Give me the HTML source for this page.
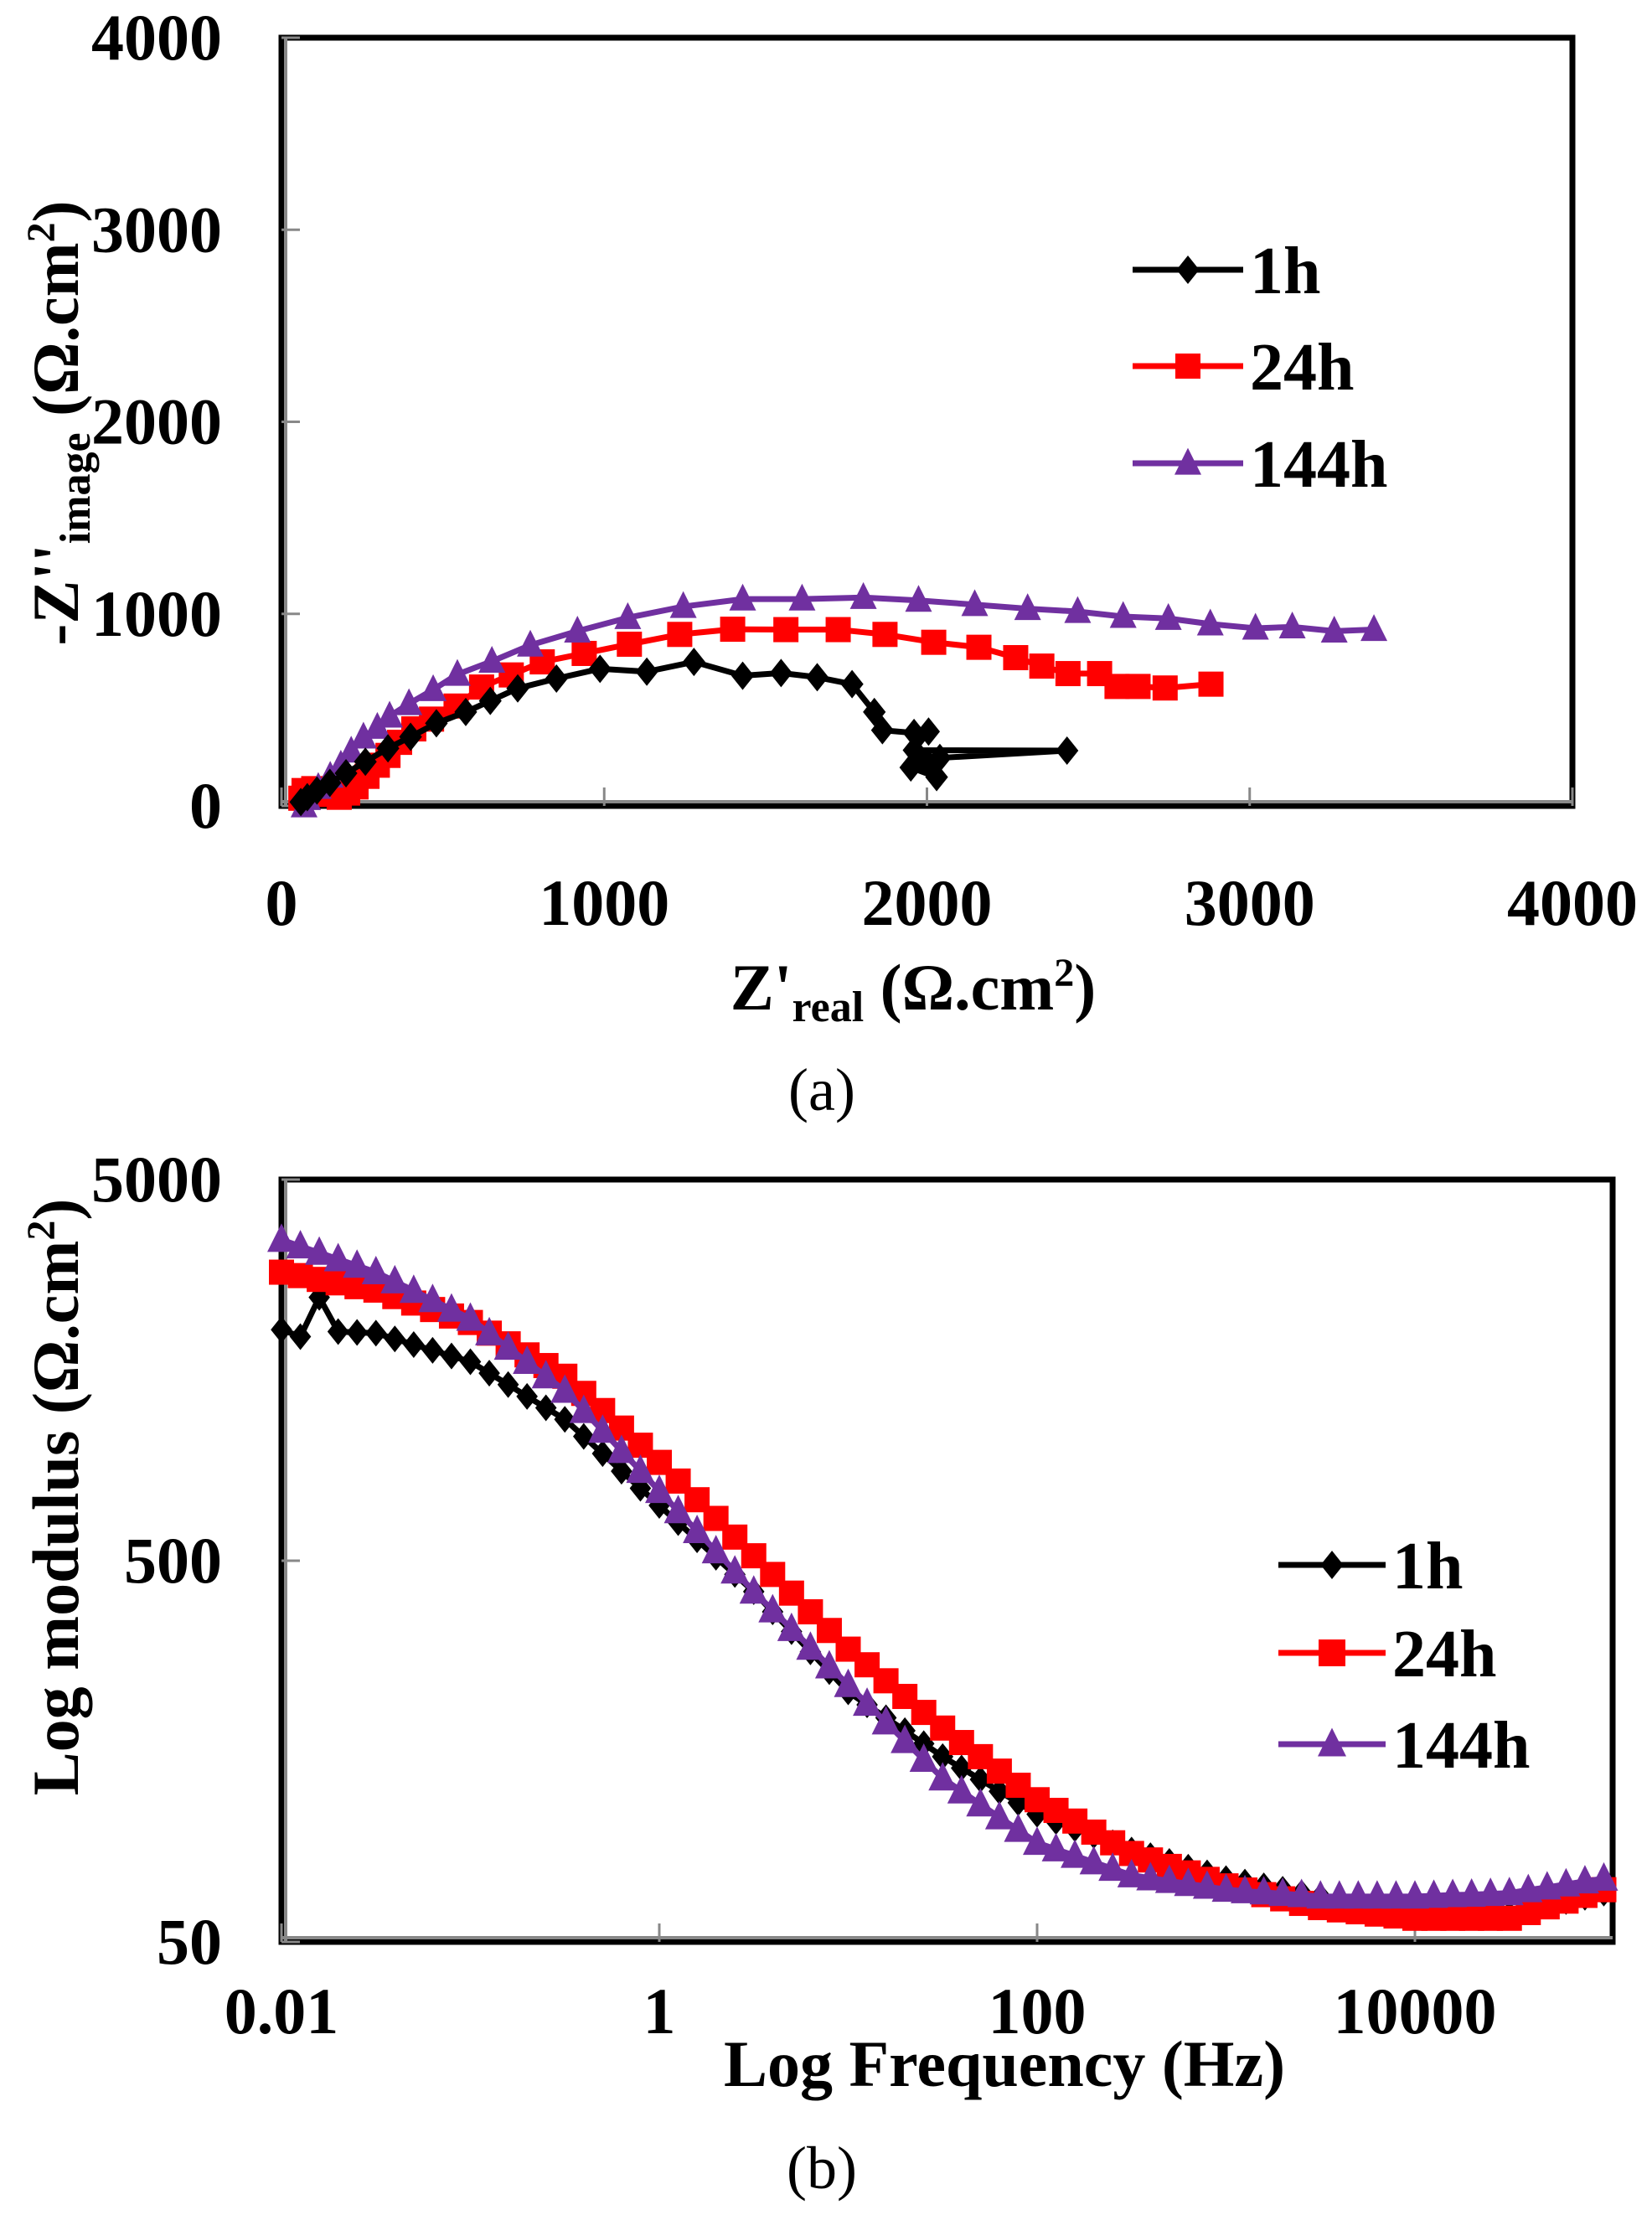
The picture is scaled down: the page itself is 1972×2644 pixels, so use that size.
<!DOCTYPE html>
<html><head><meta charset="utf-8"><style>
html,body{margin:0;padding:0;background:#fff;}
svg{display:block;}
text{font-family:"Liberation Serif",serif;font-weight:bold;fill:#000;}
</style></head><body>
<svg id="fig" width="1972" height="2644" viewBox="0 0 1972 2644" xmlns="http://www.w3.org/2000/svg">
<g id="pa"></g>
<g id="pb"></g>
<text x="981" y="1325" font-size="72" text-anchor="middle" style="font-weight:normal">(a)</text>
<text x="981" y="2612" font-size="72" text-anchor="middle" style="font-weight:normal">(b)</text>
</svg>
<script>
// ---- Nyquist data (Ω.cm²) ----
const nyqX1h = [60,80,110,150,200,260,330,400,480,571,647,732,852,987,1132,1278,1429,1548,1660,1768,1837,1862,1960,2005,1960,2434,2040,1950,2030,2000];
const nyqY1h = [20,45,80,120,170,230,300,360,430,489,547,612,663,714,699,750,678,692,670,634,489,394,380,387,290,288,250,200,150,230];
const nyqX24h = [60,70,100,130,179,205,231,265,297,330,366,410,465,541,620,712,808,938,1078,1234,1398,1563,1725,1870,2021,2161,2275,2356,2437,2535,2589,2654,2738,2880];
const nyqY24h = [40,80,90,60,45,67,99,154,212,263,331,401,452,520,619,682,750,794,842,893,920,918,918,893,852,826,772,728,689,689,622,622,614,634];
const nyqX144h = [70,81,114,151,184,216,254,297,335,395,470,545,652,771,917,1073,1245,1429,1613,1803,1974,2148,2312,2467,2608,2748,2878,3018,3132,3262,3385];
const nyqY144h = [0,38,96,154,212,285,358,409,467,532,605,685,753,837,910,980,1038,1077,1077,1085,1070,1048,1027,1012,986,976,947,925,932,910,918];
const nyqTicks = [0,1000,2000,3000,4000];

// ---- Bode data: log10(frequency Hz) and log10(|Z| Ω.cm²) ----
const logFreq = [-2,-1.9,-1.8,-1.7,-1.6,-1.5,-1.4,-1.3,-1.2,-1.1,-1,-0.9,-0.8,-0.7,-0.6,-0.5,-0.4,-0.3,-0.2,-0.1,0,0.1,0.2,0.3,0.4,0.5,0.6,0.7,0.8,0.9,1,1.1,1.2,1.3,1.4,1.5,1.6,1.7,1.8,1.9,2,2.1,2.2,2.3,2.4,2.5,2.6,2.7,2.8,2.9,3,3.1,3.2,3.3,3.4,3.5,3.6,3.7,3.8,3.9,4,4.1,4.2,4.3,4.4,4.5,4.6,4.7,4.8,4.9,5];
const logMod1h = [3.305,3.287,3.390,3.300,3.298,3.296,3.281,3.266,3.251,3.236,3.221,3.191,3.161,3.130,3.100,3.070,3.025,2.980,2.934,2.889,2.844,2.799,2.754,2.708,2.663,2.618,2.565,2.513,2.460,2.408,2.355,2.321,2.287,2.253,2.219,2.185,2.155,2.125,2.094,2.064,2.034,2.015,1.996,1.978,1.959,1.940,1.925,1.910,1.895,1.880,1.865,1.856,1.846,1.837,1.827,1.818,1.812,1.806,1.801,1.795,1.789,1.785,1.782,1.778,1.775,1.771,1.782,1.794,1.805,1.816,1.827];
const logMod24h = [3.456,3.447,3.437,3.428,3.418,3.409,3.392,3.375,3.358,3.341,3.324,3.296,3.268,3.239,3.211,3.183,3.138,3.093,3.047,3.002,2.957,2.908,2.859,2.810,2.761,2.712,2.663,2.614,2.565,2.516,2.467,2.426,2.384,2.343,2.301,2.260,2.222,2.185,2.147,2.110,2.072,2.044,2.016,1.987,1.959,1.931,1.914,1.897,1.880,1.863,1.846,1.835,1.823,1.812,1.800,1.789,1.783,1.778,1.772,1.767,1.761,1.761,1.761,1.761,1.761,1.761,1.776,1.791,1.806,1.821,1.836];
const logMod144h = [3.541,3.524,3.507,3.490,3.473,3.456,3.432,3.407,3.383,3.358,3.334,3.296,3.258,3.221,3.183,3.145,3.092,3.040,2.987,2.935,2.882,2.829,2.777,2.724,2.671,2.618,2.569,2.520,2.471,2.422,2.373,2.324,2.275,2.226,2.177,2.128,2.094,2.060,2.026,1.993,1.959,1.942,1.925,1.908,1.891,1.874,1.866,1.859,1.851,1.844,1.836,1.832,1.829,1.825,1.822,1.818,1.818,1.818,1.818,1.818,1.818,1.820,1.822,1.823,1.825,1.827,1.835,1.842,1.850,1.858,1.865];
const bodeXTickLabels = ["0.01","1","100","10000"];
const bodeXTickLogs = [-2,0,2,4];
const bodeYTickLabels = ["50","500","5000"];
const bodeYTickLogs = [1.699,2.699,3.699];

const NS = "http://www.w3.org/2000/svg";
function mk(parent, tag, attrs){ const e=document.createElementNS(NS,tag); for(const k in attrs) e.setAttribute(k,attrs[k]); parent.appendChild(e); return e; }

function marker(g, shape, cx, cy, s, color){
  let e;
  if(shape==='diamond') e = mk(g,'polygon',{points:`${cx},${cy-s} ${cx+s*0.8},${cy} ${cx},${cy+s} ${cx-s*0.8},${cy}`,fill:color});
  else if(shape==='square') e = mk(g,'rect',{x:cx-s,y:cy-s,width:2*s,height:2*s,fill:color});
  else e = mk(g,'polygon',{points:`${cx},${cy-s*1.15} ${cx+s},${cy+s*0.85} ${cx-s},${cy+s*0.85}`,fill:color});
  return e;
}

function frame(g, L, T, R, B){
  const r = mk(g,'rect',{x:L,y:T,width:R-L,height:B-T,fill:'none',stroke:'#000','stroke-width':7});
  
  
  const l1 = mk(g,'line',{x1:L+5,y1:T,x2:L+5,y2:B,stroke:'#888','stroke-width':4});
  
  
  const l2 = mk(g,'line',{x1:L,y1:B-5,x2:R,y2:B-5,stroke:'#888','stroke-width':4});
  
  
}

// ===== Plot (a) Nyquist =====
(function(){
  const g = document.getElementById('pa');
  const L=336,R=1877,T=45,B=962;
  const xs = v => L + (v/4000)*(R-L);
  const ys = v => B - (v/4000)*(B-T);
  frame(g,L,T,R,B);
  nyqTicks.forEach(t=>{
    const tx = mk(g,'line',{x1:xs(t),y1:B,x2:xs(t),y2:B-22,stroke:'#888','stroke-width':3});
    
    
    const ty = mk(g,'line',{x1:L,y1:ys(t),x2:L+22,y2:ys(t),stroke:'#888','stroke-width':3});
    
    
    const lx = mk(g,'text',{x:xs(t),y:1104,'font-size':78,'text-anchor':'middle'});
    lx.textContent = t;
    
    
    const ly = mk(g,'text',{x:265,y:ys(t)+26,'font-size':78,'text-anchor':'end'});
    ly.textContent = t;
    
    
  });
  const series = [
    {x:nyqX1h,y:nyqY1h,c:'#000',s:'diamond',sz:17,name:'series-1h'},
    {x:nyqX24h,y:nyqY24h,c:'#ff0000',s:'square',sz:15,name:'series-24h'},
    {x:nyqX144h,y:nyqY144h,c:'#7030a0',s:'triangle',sz:16,name:'series-144h'}
  ];
  [series[1],series[2],series[0]].forEach(sr=>{
    const sg = mk(g,'g',{});
    
    
    const pts = sr.x.map((v,i)=>xs(v)+','+ys(sr.y[i])).join(' ');
    const pl = mk(sg,'polyline',{points:pts,fill:'none',stroke:sr.c,'stroke-width':7,'stroke-linejoin':'round'});
    
    
    sr.x.forEach((v,i)=>{
      const m = marker(sg,sr.s,xs(v),ys(sr.y[i]),sr.sz,sr.c);
      
      
    });
  });
  const leg = [{t:'1h',y:322,c:'#000',s:'diamond',sz:17},{t:'24h',y:437,c:'#ff0000',s:'square',sz:15},{t:'144h',y:553,c:'#7030a0',s:'triangle',sz:16}];
  leg.forEach(l=>{
    const lg = mk(g,'g',{});
    
    
    mk(lg,'line',{x1:1352,y1:l.y,x2:1484,y2:l.y,stroke:l.c,'stroke-width':7});
    marker(lg,l.s,1418,l.y,l.sz,l.c);
    const tt = mk(lg,'text',{x:1492,y:l.y+28,'font-size':80});
    tt.textContent = l.t;
  });
  const xt = mk(g,'text',{x:1090,y:1205,'font-size':78,'text-anchor':'middle'});
  xt.innerHTML = 'Z\'<tspan font-size="52" dy="14">real</tspan><tspan dy="-14"> (Ω.cm</tspan><tspan font-size="48" dy="-28">2</tspan><tspan dy="28">)</tspan>';
  
  
  const yt = mk(g,'text',{x:0,y:0,'font-size':78,'text-anchor':'middle',transform:'translate(93,505) rotate(-90)'});
  yt.innerHTML = '-Z\'\'<tspan font-size="52" dy="14">image</tspan><tspan dy="-14"> (Ω.cm</tspan><tspan font-size="48" dy="-28">2</tspan><tspan dy="28">)</tspan>';
  
  
})();

// ===== Plot (b) Bode =====
(function(){
  const g = document.getElementById('pb');
  const L=336,R=1925,T=1408,B=2318;
  const xs = lf => L + (lf+2)*225.5;
  const ys = lm => B - (lm-1.699)*455;
  frame(g,L,T,R,B);
  bodeXTickLogs.forEach((t,i)=>{
    const tx = mk(g,'line',{x1:xs(t),y1:B,x2:xs(t),y2:B-22,stroke:'#888','stroke-width':3});
    
    
    const lx = mk(g,'text',{x:xs(t),y:2427,'font-size':78,'text-anchor':'middle'});
    lx.textContent = bodeXTickLabels[i];
    
    
  });
  bodeYTickLogs.forEach((t,i)=>{
    const ty = mk(g,'line',{x1:L,y1:ys(t),x2:L+22,y2:ys(t),stroke:'#888','stroke-width':3});
    
    
    const ly = mk(g,'text',{x:265,y:ys(t)+26,'font-size':78,'text-anchor':'end'});
    ly.textContent = bodeYTickLabels[i];
    
    
  });
  const series = [
    {y:logMod1h,c:'#000',s:'diamond',sz:16,name:'series-1h'},
    {y:logMod24h,c:'#ff0000',s:'square',sz:15,name:'series-24h'},
    {y:logMod144h,c:'#7030a0',s:'triangle',sz:17,name:'series-144h'}
  ];
  series.forEach(sr=>{
    const sg = mk(g,'g',{});
    
    
    const pts = logFreq.map((f,i)=>xs(f)+','+ys(sr.y[i])).join(' ');
    const pl = mk(sg,'polyline',{points:pts,fill:'none',stroke:sr.c,'stroke-width':7});
    
    
    logFreq.forEach((f,i)=>{
      const m = marker(sg,sr.s,xs(f),ys(sr.y[i]),sr.sz,sr.c);
      
      
    });
  });
  const leg = [{t:'1h',y:1868,c:'#000',s:'diamond',sz:17},{t:'24h',y:1973,c:'#ff0000',s:'square',sz:16},{t:'144h',y:2082,c:'#7030a0',s:'triangle',sz:17}];
  leg.forEach(l=>{
    const lg = mk(g,'g',{});
    
    
    mk(lg,'line',{x1:1526,y1:l.y,x2:1654,y2:l.y,stroke:l.c,'stroke-width':7});
    marker(lg,l.s,1590,l.y,l.sz,l.c);
    const tt = mk(lg,'text',{x:1662,y:l.y+28,'font-size':80});
    tt.textContent = l.t;
  });
  const xt = mk(g,'text',{x:1199,y:2490,'font-size':78,'text-anchor':'middle'});
  xt.textContent = 'Log Frequency (Hz)';
  
  
  const yt = mk(g,'text',{x:0,y:0,'font-size':78,'text-anchor':'middle',transform:'translate(93,1787) rotate(-90)'});
  yt.innerHTML = 'Log modulus (Ω.cm<tspan font-size="48" dy="-28">2</tspan><tspan dy="28">)</tspan>';
  
  
})();
</script>
</body></html>
